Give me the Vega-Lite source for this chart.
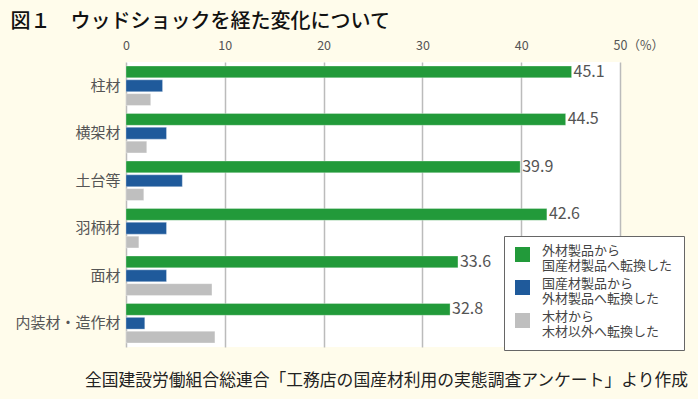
{
  "$schema": "https://vega.github.io/schema/vega-lite/v6.json",
  "width": 494,
  "height": 285,
  "autosize": {"type": "none"},
  "padding": {"left": 126, "top": 62, "right": 78, "bottom": 52},
  "background": "#FFFCEB",
  "title": {
    "text": "全国建設労働組合総連合「工務店の国産材利用の実態調査アンケート」より作成",
    "orient": "bottom",
    "anchor": "end",
    "frame": "group",
    "dx": 68,
    "offset": 22,
    "fontSize": 16.8,
    "font": "Noto Sans CJK JP",
    "fontWeight": "normal",
    "color": "#222222"
  },
  "config": {
    "view": {"fill": "#FFFFFF", "stroke": null},
    "font": "Noto Sans CJK JP",
    "style": {"guide-label": {"lineHeight": 15}}
  },
  "data": {
    "values": [
      {"cat": "柱材", "s": "外材製品から|国産材製品へ転換した", "o": 1, "v": 45.1},
      {"cat": "柱材", "s": "国産材製品から|外材製品へ転換した", "o": 2, "v": 3.7},
      {"cat": "柱材", "s": "木材から|木材以外へ転換した", "o": 3, "v": 2.5},
      {"cat": "横架材", "s": "外材製品から|国産材製品へ転換した", "o": 1, "v": 44.5},
      {"cat": "横架材", "s": "国産材製品から|外材製品へ転換した", "o": 2, "v": 4.1},
      {"cat": "横架材", "s": "木材から|木材以外へ転換した", "o": 3, "v": 2.1},
      {"cat": "土台等", "s": "外材製品から|国産材製品へ転換した", "o": 1, "v": 39.9},
      {"cat": "土台等", "s": "国産材製品から|外材製品へ転換した", "o": 2, "v": 5.7},
      {"cat": "土台等", "s": "木材から|木材以外へ転換した", "o": 3, "v": 1.8},
      {"cat": "羽柄材", "s": "外材製品から|国産材製品へ転換した", "o": 1, "v": 42.6},
      {"cat": "羽柄材", "s": "国産材製品から|外材製品へ転換した", "o": 2, "v": 4.1},
      {"cat": "羽柄材", "s": "木材から|木材以外へ転換した", "o": 3, "v": 1.3},
      {"cat": "面材", "s": "外材製品から|国産材製品へ転換した", "o": 1, "v": 33.6},
      {"cat": "面材", "s": "国産材製品から|外材製品へ転換した", "o": 2, "v": 4.1},
      {"cat": "面材", "s": "木材から|木材以外へ転換した", "o": 3, "v": 8.7},
      {"cat": "内装材・造作材", "s": "外材製品から|国産材製品へ転換した", "o": 1, "v": 32.8},
      {"cat": "内装材・造作材", "s": "国産材製品から|外材製品へ転換した", "o": 2, "v": 1.9},
      {"cat": "内装材・造作材", "s": "木材から|木材以外へ転換した", "o": 3, "v": 9.0}
    ]
  },
  "encoding": {
    "y": {
      "field": "cat",
      "type": "nominal",
      "sort": ["柱材", "横架材", "土台等", "羽柄材", "面材", "内装材・造作材"],
      "scale": {"paddingInner": 0.17, "paddingOuter": 0.085},
      "axis": {
        "title": null,
        "domain": false,
        "ticks": false,
        "labelFontSize": 15,
        "labelColor": "#555555",
        "labelPadding": 6
      }
    },
    "yOffset": {
      "field": "o",
      "type": "ordinal",
      "scale": {"paddingInner": 0.15, "paddingOuter": 0}
    },
    "x": {
      "field": "v",
      "type": "quantitative",
      "scale": {"domain": [0, 50], "nice": false},
      "axis": {
        "orient": "top",
        "values": [0, 10, 20, 30, 40, 50],
        "labelExpr": "datum.value == 50 ? '50（%）' : datum.label",
        "labelAlign": {"condition": {"test": "datum.value == 50", "value": "left"}, "value": "center"},
        "labelOffset": {"condition": {"test": "datum.value == 50", "value": -7}, "value": 0},
        "labelFontSize": 12.5,
        "labelColor": "#555555",
        "labelPadding": 10,
        "domain": false,
        "ticks": false,
        "grid": true,
        "gridColor": "#BBBBBB",
        "gridWidth": 1.5,
        "title": "図１　ウッドショックを経た変化について",
        "titleFontSize": 20,
        "titleFontWeight": 500,
        "titleColor": "#111111",
        "titleAnchor": "start",
        "titleAlign": "left",
        "titleBaseline": "alphabetic",
        "titleX": -116,
        "titleY": -35
      }
    }
  },
  "layer": [
    {
      "mark": {"type": "bar", "stroke": "#FFFFFF", "strokeWidth": 0.5, "strokeOpacity": 0.6},
      "encoding": {
        "color": {
          "field": "s",
          "type": "nominal",
          "sort": ["外材製品から|国産材製品へ転換した", "国産材製品から|外材製品へ転換した", "木材から|木材以外へ転換した"],
          "scale": {"range": ["#229A3A", "#1F5A9B", "#BFBFBF"]},
          "legend": {
            "title": null,
            "orient": "none",
            "legendX": 378,
            "legendY": 174,
            "fillColor": "#FFFFFF",
            "strokeColor": "#666666",
            "padding": 11,
            "symbolType": "square",
            "symbolSize": 225,
            "symbolStrokeWidth": 0,
            "labelExpr": "split(datum.label, '|')",
            "labelFontSize": 13,
            "labelBaseline": "alphabetic",
            "labelColor": "#444444",
            "labelOffset": 12,
            "labelLimit": 300,
            "rowPadding": 4
          }
        }
      }
    },
    {
      "transform": [{"filter": "datum.o == 1"}],
      "mark": {"type": "text", "align": "left", "baseline": "middle", "dx": 2, "fontSize": 16, "color": "#555555"},
      "encoding": {
        "text": {"field": "v", "type": "quantitative", "format": ".1f"}
      }
    }
  ]
}
